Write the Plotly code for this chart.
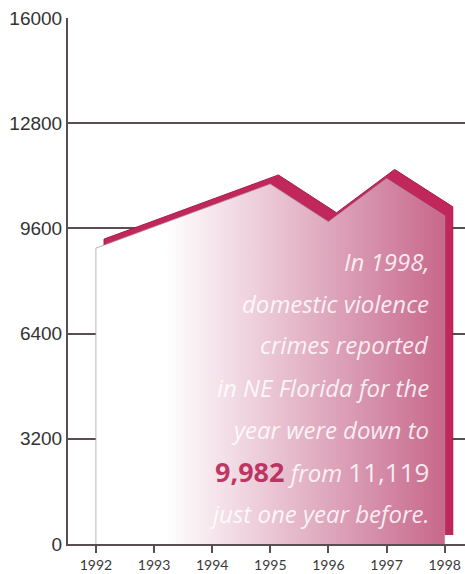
import plotly.graph_objects as go

years = [1992, 1993, 1994, 1995, 1996, 1997, 1998]
crimes = [9000, 9650, 10300, 10950, 9800, 11119, 9982]
y_ticks = [0, 3200, 6400, 9600, 12800, 16000]
text_lines = [
    "<i>In 1998,</i>",
    "<i>domestic violence</i>",
    "<i>crimes reported</i>",
    "<i>in NE Florida for the</i>",
    "<i>year were down to</i>",
    "<b><span style='color:#b3194e;font-size:27px'>9,982</span></b> <i>from</i> <span style='font-size:26px'>11,119</span>",
    "<i>just one year before.</i>",
]

# extrusion offset (style)
dx, dy = 0.14, 275

fig = go.Figure()

# back (extruded) face
sx = [years[0] + dx] + [x + dx for x in years] + [years[-1] + dx]
sy = [dy] + [v + dy for v in crimes] + [dy]
fig.add_trace(go.Scatter(
    x=sx, y=sy, mode="lines", fill="toself",
    fillcolor="#c2275c", line=dict(color="#a81a4a", width=1),
    hoverinfo="skip", showlegend=False))

# front face with horizontal gradient
fx = [years[0]] + years + [years[-1]]
fy = [0] + crimes + [0]
fig.add_trace(go.Scatter(
    x=fx, y=fy, mode="lines", fill="toself",
    fillgradient=dict(type="horizontal",
                      colorscale=[[0, "#ffffff"], [0.2, "#ffffff"],
                                  [0.45, "#eed0dc"], [0.75, "#d897b0"],
                                  [1, "#c8688b"]]),
    line=dict(color="rgba(170,150,160,0.7)", width=1),
    hoverinfo="skip", showlegend=False))

grid_col = "#5a4e50"
fig.update_xaxes(
    range=[1991.52, 1998.35], tickvals=years, ticktext=[str(y) for y in years],
    showgrid=False, zeroline=False, showline=True, linecolor=grid_col, linewidth=2,
    ticks="outside", ticklen=7, tickwidth=2, tickcolor=grid_col,
    tickfont=dict(family="Lato, sans-serif", size=14, color="#3a3a3a"),
)
fig.update_yaxes(
    range=[0, 16000], tickvals=y_ticks, tickformat="d",
    showgrid=True, gridcolor=grid_col, gridwidth=1.5, zeroline=False,
    showline=True, linecolor=grid_col, linewidth=2,
    ticks="", tickfont=dict(family="Liberation Sans, Arial, sans-serif", size=19, color="#333333"),
)

centers = [261, 303, 345, 387, 429, 471, 513]
for t, cy in zip(text_lines, centers):
    fig.add_annotation(
        text=t, xref="paper", yref="paper",
        x=(431 - 68) / 397, y=(544 - cy) / 526,
        xanchor="right", yanchor="middle", showarrow=False,
        font=dict(family="Open Sans, sans-serif", size=24, color="rgba(255,255,255,0.85)"),
    )

fig.update_layout(
    width=465, height=574,
    margin=dict(l=68, r=0, t=18, b=30),
    paper_bgcolor="white", plot_bgcolor="white",
)

fig.write_html("out.html",
               config={"displayModeBar": False},
               post_script="document.body.style.margin='0';document.body.style.overflow='hidden';")
